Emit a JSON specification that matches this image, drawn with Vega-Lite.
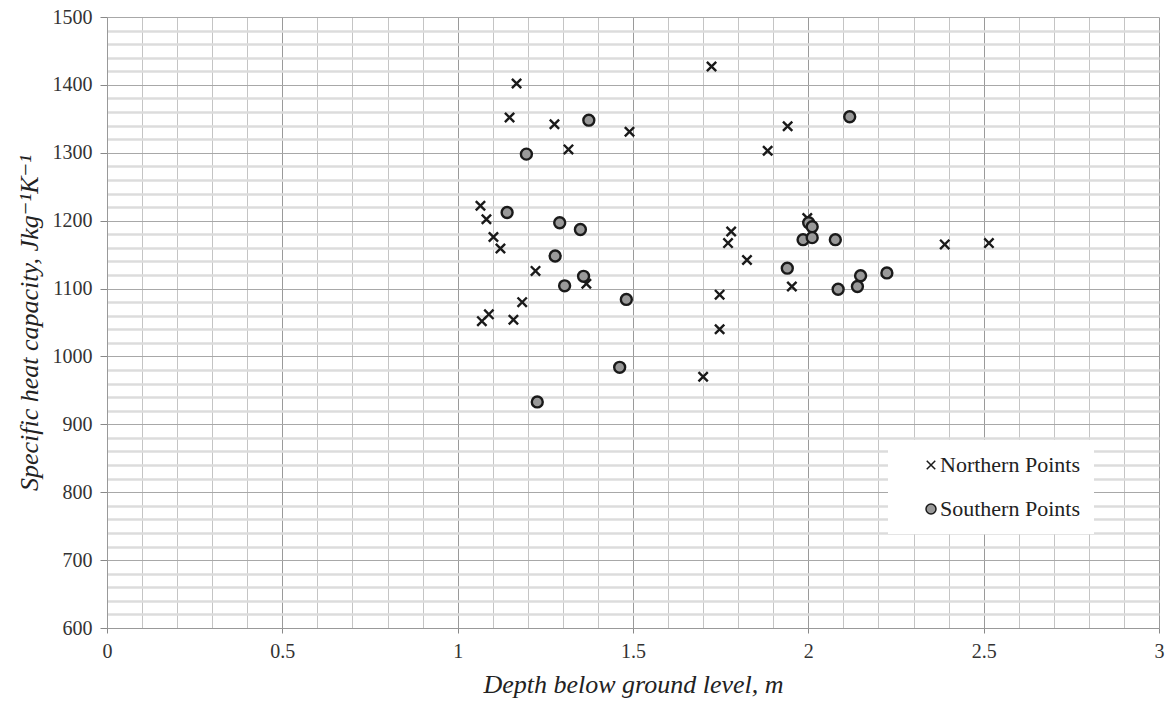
{
  "$schema": "https://vega.github.io/schema/vega-lite/v6.json",
  "autosize": {"type": "none"},
  "padding": {"left": 107, "top": 17, "right": 8, "bottom": 73},
  "width": 1052,
  "height": 611,
  "background": "white",
  "config": {"view": {"stroke": null}, "font": "'Liberation Serif', 'Times New Roman', 'DejaVu Serif', serif"},
  "data": {"values": [
    {"depth": 1.168, "shc": 1402, "series": "Northern Points"},
    {"depth": 1.148, "shc": 1352, "series": "Northern Points"},
    {"depth": 1.276, "shc": 1342, "series": "Northern Points"},
    {"depth": 1.490, "shc": 1331, "series": "Northern Points"},
    {"depth": 1.316, "shc": 1305, "series": "Northern Points"},
    {"depth": 1.724, "shc": 1427, "series": "Northern Points"},
    {"depth": 1.941, "shc": 1339, "series": "Northern Points"},
    {"depth": 1.884, "shc": 1303, "series": "Northern Points"},
    {"depth": 1.065, "shc": 1222, "series": "Northern Points"},
    {"depth": 1.082, "shc": 1202, "series": "Northern Points"},
    {"depth": 1.102, "shc": 1176, "series": "Northern Points"},
    {"depth": 1.122, "shc": 1159, "series": "Northern Points"},
    {"depth": 1.222, "shc": 1126, "series": "Northern Points"},
    {"depth": 1.367, "shc": 1107, "series": "Northern Points"},
    {"depth": 1.184, "shc": 1080, "series": "Northern Points"},
    {"depth": 1.089, "shc": 1062, "series": "Northern Points"},
    {"depth": 1.069, "shc": 1052, "series": "Northern Points"},
    {"depth": 1.159, "shc": 1054, "series": "Northern Points"},
    {"depth": 1.700, "shc": 970, "series": "Northern Points"},
    {"depth": 1.780, "shc": 1184, "series": "Northern Points"},
    {"depth": 1.771, "shc": 1167, "series": "Northern Points"},
    {"depth": 1.825, "shc": 1142, "series": "Northern Points"},
    {"depth": 1.747, "shc": 1091, "series": "Northern Points"},
    {"depth": 1.747, "shc": 1040, "series": "Northern Points"},
    {"depth": 1.953, "shc": 1103, "series": "Northern Points"},
    {"depth": 1.997, "shc": 1204, "series": "Northern Points"},
    {"depth": 2.389, "shc": 1165, "series": "Northern Points"},
    {"depth": 2.515, "shc": 1167, "series": "Northern Points"},
    {"depth": 1.374, "shc": 1348, "series": "Southern Points"},
    {"depth": 1.196, "shc": 1298, "series": "Southern Points"},
    {"depth": 1.141, "shc": 1212, "series": "Southern Points"},
    {"depth": 1.291, "shc": 1197, "series": "Southern Points"},
    {"depth": 1.350, "shc": 1187, "series": "Southern Points"},
    {"depth": 1.278, "shc": 1148, "series": "Southern Points"},
    {"depth": 1.359, "shc": 1118, "series": "Southern Points"},
    {"depth": 1.305, "shc": 1104, "series": "Southern Points"},
    {"depth": 1.481, "shc": 1084, "series": "Southern Points"},
    {"depth": 1.462, "shc": 984, "series": "Southern Points"},
    {"depth": 1.227, "shc": 933, "series": "Southern Points"},
    {"depth": 2.118, "shc": 1353, "series": "Southern Points"},
    {"depth": 2.001, "shc": 1197, "series": "Southern Points"},
    {"depth": 2.011, "shc": 1191, "series": "Southern Points"},
    {"depth": 1.985, "shc": 1172, "series": "Southern Points"},
    {"depth": 2.011, "shc": 1175, "series": "Southern Points"},
    {"depth": 2.077, "shc": 1172, "series": "Southern Points"},
    {"depth": 1.940, "shc": 1130, "series": "Southern Points"},
    {"depth": 2.085, "shc": 1099, "series": "Southern Points"},
    {"depth": 2.140, "shc": 1103, "series": "Southern Points"},
    {"depth": 2.149, "shc": 1119, "series": "Southern Points"},
    {"depth": 2.224, "shc": 1123, "series": "Southern Points"}
  ]},
  "mark": {"type": "point", "size": 120, "strokeWidth": 2.4, "stroke": "#1a1a1a", "opacity": 1, "filled": false},
  "encoding": {
    "x": {
      "field": "depth", "type": "quantitative",
      "scale": {"domain": [0, 3], "nice": false, "zero": false},
      "axis": {
        "values": [0, 0.1, 0.2, 0.3, 0.4, 0.5, 0.6, 0.7, 0.8, 0.9, 1, 1.1, 1.2, 1.3, 1.4, 1.5, 1.6, 1.7, 1.8, 1.9, 2, 2.1, 2.2, 2.3, 2.4, 2.5, 2.6, 2.7, 2.8, 2.9, 3],
        "title": "Depth below ground level, m",
        "titleFontStyle": "italic", "titleFontWeight": "normal", "titleFontSize": 26, "titleColor": "#222", "titlePadding": 10,
        "labelFontSize": 20, "labelColor": "#333", "labelPadding": 8,
        "labelExpr": "abs(datum.value*2-round(datum.value*2))<0.001 ? toString(round(datum.value*10)/10) : ''",
        "labelOverlap": false, "labelFlush": false,
        "tickSize": 5,
        "tickColor": {"condition": {"test": "abs(datum.value*2-round(datum.value*2))<0.001", "value": "#888888"}, "value": "transparent"},
        "gridColor": {"condition": {"test": "abs(datum.value*2-round(datum.value*2))<0.001", "value": "#9a9a9a"}, "value": "#c4c4c4"},
        "domainColor": "#999999"
      }
    },
    "y": {
      "field": "shc", "type": "quantitative",
      "scale": {"domain": [600, 1500], "nice": false, "zero": false},
      "axis": {
        "values": [600, 620, 640, 660, 680, 700, 720, 740, 760, 780, 800, 820, 840, 860, 880, 900, 920, 940, 960, 980, 1000, 1020, 1040, 1060, 1080, 1100, 1120, 1140, 1160, 1180, 1200, 1220, 1240, 1260, 1280, 1300, 1320, 1340, 1360, 1380, 1400, 1420, 1440, 1460, 1480, 1500],
        "title": "Specific heat capacity, Jkg⁻¹K⁻¹",
        "titleFontStyle": "italic", "titleFontWeight": "normal", "titleFontSize": 26, "titleColor": "#222", "titlePadding": 10,
        "labelFontSize": 20, "labelColor": "#333", "labelPadding": 8,
        "format": "d",
        "labelExpr": "datum.value % 100 === 0 ? datum.label : ''",
        "labelOverlap": false, "labelFlush": false,
        "tickSize": 7,
        "tickColor": {"condition": {"test": "datum.value % 100 === 0", "value": "#888888"}, "value": "transparent"},
        "gridColor": {"condition": {"test": "datum.value % 100 === 0", "value": "#a8a8a8"}, "value": "#dcdcdc"},
        "gridWidth": {"condition": {"test": "datum.value % 100 === 0", "value": 1.2}, "value": 2.5},
        "domainColor": "#999999"
      }
    },
    "shape": {
      "field": "series", "type": "nominal",
      "scale": {"domain": ["Northern Points", "Southern Points"], "range": ["M-0.85,-0.85L0.85,0.85M-0.85,0.85L0.85,-0.85", "circle"]},
      "legend": {"orient": "none", "legendX": 781, "legendY": 423, "title": null, "fillColor": "white", "padding": 14, "labelFontSize": 22, "labelColor": "#222", "symbolSize": 100, "rowPadding": 22, "labelOffset": -2, "symbolOffset": 18,
        "encode": {"symbols": {"update": {"stroke": {"value": "#444444"}, "strokeWidth": {"value": 1.4}}}}}
    },
    "fill": {
      "field": "series", "type": "nominal",
      "scale": {"domain": ["Northern Points", "Southern Points"], "range": ["transparent", "#999999"]},
      "legend": {"orient": "none", "legendX": 781, "legendY": 423, "title": null, "fillColor": "white", "padding": 14, "labelFontSize": 22, "labelColor": "#222", "symbolSize": 100, "rowPadding": 22, "labelOffset": -2, "symbolOffset": 18,
        "encode": {"symbols": {"update": {"stroke": {"value": "#444444"}, "strokeWidth": {"value": 1.4}}}}}
    }
  }
}
